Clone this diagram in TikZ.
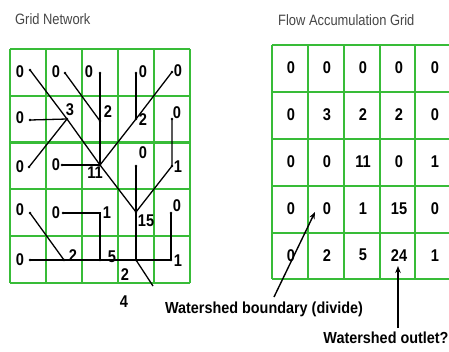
\documentclass[tikz,border=0pt]{standalone}
\usepackage{fontspec}
\setmainfont{Liberation Sans}[FakeStretch=0.86]
\newfontfamily\calloutfont{Liberation Sans}[FakeStretch=0.9]
\usetikzlibrary{arrows.meta}
\definecolor{gridgreen}{RGB}{56,188,56}
\definecolor{titlegray}{RGB}{70,70,70}
\begin{document}
\begin{tikzpicture}[x=1pt,y=-1pt,
  gridline/.style={gridgreen,line width=2.2pt},
  num/.style={inner sep=0pt,font=\bfseries\fontsize{17}{17}\selectfont},
  flow/.style={black,line width=1.3pt},
  dot/.style={circle,fill=black,inner sep=0pt,minimum size=2.8pt},
  title/.style={inner sep=0pt,anchor=west,text=titlegray,font=\fontsize{15}{16}\selectfont},
  callout/.style={inner sep=0pt,font=\calloutfont\bfseries\fontsize{16}{17}\selectfont},
  pointer/.style={black,line width=1.4pt,-{Stealth[length=7pt,width=5.5pt]}}]
\useasboundingbox[fill=white] (0,0) rectangle (449,351);

% titles
\node[title] (t1) at (15,19) {Grid Network};
\node[title] (t2) at (278,20) {Flow Accumulation Grid};

% ---- grid network (left) ----
\foreach \x in {10,46,82,118,154,190} \draw[gridline] (\x,49) -- (\x,283);
\foreach \y in {49,96,142.5,189,236,283} \draw[gridline] (10,\y) -- (190,\y);

% junctions of the drainage lines
\coordinate (a00) at (30,70);   \coordinate (a01) at (65,73);
\coordinate (a02) at (100,73);  \coordinate (a03) at (136,73);
\coordinate (a04) at (172,72);
\coordinate (a10) at (30,120);  \coordinate (j3)  at (67,119);
\coordinate (j2a) at (100,121); \coordinate (j2b) at (136,119);
\coordinate (a14) at (172,119);
\coordinate (a20) at (29,167);  \coordinate (a21) at (62,165);
\coordinate (j11) at (100,165); \coordinate (a23) at (136,166);
\coordinate (j1)  at (172,166);
\coordinate (a30) at (30,213);  \coordinate (a31) at (63,213);
\coordinate (k31) at (100,213); \coordinate (j15) at (136,212);
\coordinate (a34) at (171,213);
\coordinate (a40) at (30,260);  \coordinate (j2c) at (64,260);
\coordinate (j5)  at (100,260); \coordinate (j24) at (136,260);
\coordinate (j1b) at (171,260);
\coordinate (out) at (153,286);

\draw[flow] (a00) -- (j3) -- (j11) -- (j15);
\draw[flow] (a01) -- (j2a);
\draw[flow] (a02) -- (j2a) -- (j11);
\draw[flow] (a03) -- (j2b);
\draw[flow] (a04) -- (j2b) -- (j11);
\draw[flow] (a10) -- (j3);
\draw[flow] (a20) -- (j3);
\draw[flow] (a14) -- (j1) -- (j15);
\draw[flow] (a21) -- (j11);
\draw[flow] (a23) -- (j15) -- (j24);
\draw[flow] (a30) -- (j2c);
\draw[flow] (a31) -- (k31) -- (j5);
\draw[flow] (a34) -- (j1b);
\draw[flow] (a40) -- (j2c) -- (j5) -- (j24) -- (j1b);
\draw[flow] (j24) -- (out);
\foreach \p in {a00,a01,a02,a03,a04,a10,j3,j2a,j2b,a14,a20,a21,j11,a23,j1,
                a30,a31,j15,a34,a40,j2c,j5,j24,j1b}
  \node[dot] at (\p) {};

% cell values of the network
\node[num] (n00) at (20,72)  {0};  \node[num] (n01) at (56,72)  {0};
\node[num] (n02) at (89,72)  {0};  \node[num] (n03) at (143,72) {0};
\node[num] (n04) at (178,71) {0};
\node[num] (n10) at (20,118) {0};  \node[num] (n11) at (70,110) {3};
\node[num] (n12) at (108,112) {2}; \node[num] (n13) at (143,120) {2};
\node[num] (n14) at (177,113) {0};
\node[num] (n20) at (20,167) {0};  \node[num] (n21) at (56,165) {0};
\node[num] (n22) at (95,173) {11}; \node[num] (n23) at (143,153) {0};
\node[num] (n24) at (178,167) {1};
\node[num] (n30) at (20,210) {0};  \node[num] (n31) at (56,213) {0};
\node[num] (n32) at (107,213) {1}; \node[num] (n33) at (146,221) {15};
\node[num] (n34) at (177,206) {0};
\node[num] (n40) at (20,260) {0};  \node[num] (n41) at (73,256) {2};
\node[num] (n42) at (112,257) {5}; \node[num] (n43) at (125,275) {2};
\node[num] (n44) at (178,261) {1};
\node[num] (n5)  at (124,302) {4};

% ---- flow accumulation grid (right) ----
\foreach \x in {272,308,344,380,415,452} \draw[gridline] (\x,45) -- (\x,279);
\foreach \y in {45,92,139,186,233,279} \draw[gridline] (272,\y) -- (452,\y);

\foreach \r/\vals in {0/{0,0,0,0,0},1/{0,3,2,2,0},2/{0,0,11,0,1},
                      3/{0,0,1,15,0},4/{0,2,5,24,1}}{
  \foreach \v [count=\c from 0] in \vals
    \node[num] (f\r\c) at ({291+36*\c},{68+46.8*\r}) {\v};
}

% callouts
\node[callout] (wb) at (264,309) {Watershed boundary (divide)};
\node[callout] (wo) at (386,338) {Watershed outlet?};
\coordinate (wbtail) at (274,297);
\coordinate (wbtip) at (315,212);
\coordinate (wotail) at (398,328);
\coordinate (wotip) at (398,266);
\draw[pointer] (wbtail) -- (wbtip);
\draw[pointer] (wotail) -- (wotip);
\end{tikzpicture}
\end{document}
